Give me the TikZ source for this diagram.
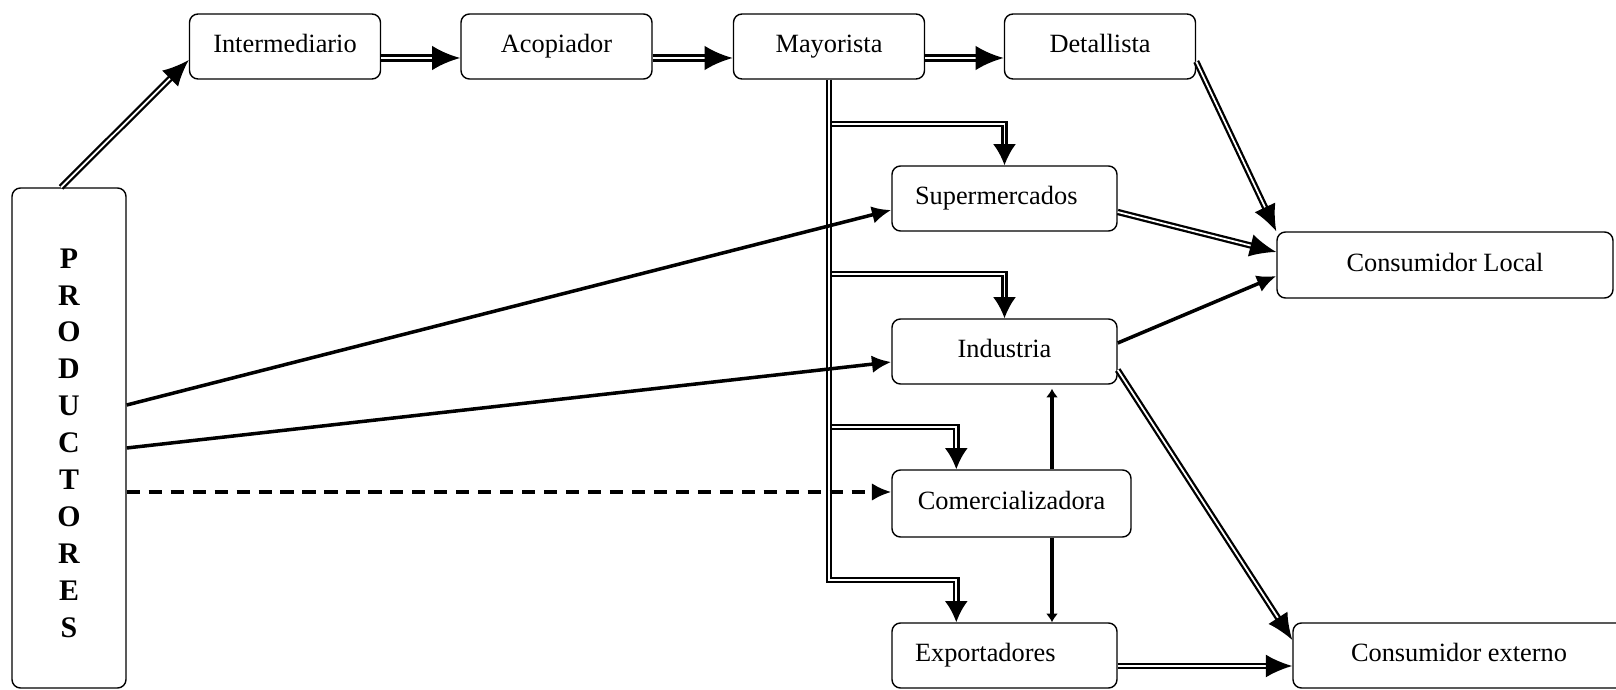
\documentclass[tikz,border=0pt]{standalone}
\usepackage{fontspec}
\setmainfont{Liberation Serif}
\usepackage{tikz}
\usetikzlibrary{arrows.meta}

\tikzset{
	frame/.style={draw, line width=0.8pt, rounded corners=0.17cm, inner sep=0pt},
	box/.style={frame, minimum height=1.3cm, text height=10.5pt, text depth=3.5pt, font=\fontsize{15}{18}\selectfont},
	topbox/.style={box, minimum width=3.82cm},
	midbox/.style={box, minimum width=4.5cm},
	leftbox/.style={midbox, text width=3.58cm, align=left},
	dblarrow/.style={draw, line width=1.3pt, double, double distance=1pt, -{Latex[length=15pt,width=13pt]}},
	fatarrow/.style={draw, line width=2pt, double, double distance=0.8pt, -{Latex[length=16pt,width=14pt]}},
	brarrow/.style={draw, line width=1.4pt, double, double distance=1.1pt, -{Latex[length=12pt,width=13pt]}},
	onearrow/.style={draw, line width=2pt, -{Latex[length=11pt,width=10pt]}},
	dasharrow/.style={onearrow, dash pattern=on 7.5pt off 5pt},
	thinarrow/.style={draw, line width=2.2pt, -{Latex[length=5pt,width=7pt]}}
}

\begin{document}
\begin{tikzpicture}
	\useasboundingbox (0, 0) rectangle (32.32, 13.8);
	% Boxes:
	\node[frame, minimum width=2.28cm, minimum height=10cm] (Productores) at (1.38, 5.04) {};
	\node[align=center, font=\fontsize{17}{21}\selectfont\bfseries] (ProdText) at ([yshift=-0.1cm]Productores.center) {P\\R\\O\\D\\U\\C\\T\\O\\R\\E\\S};
	\node[topbox] (Intermediario) at (5.70, 12.87) {Intermediario};
	\node[topbox] (Acopiador) at (11.13, 12.87) {Acopiador};
	\node[topbox] (Mayorista) at (16.58, 12.87) {Mayorista};
	\node[topbox] (Detallista) at (22.00, 12.87) {Detallista};
	\node[leftbox] (Supermercados) at (20.09, 9.83) {Supermercados};
	\node[midbox] (Industria) at (20.09, 6.77) {Industria};
	\node[box, minimum width=4.78cm, minimum height=1.34cm] (Comercializadora) at (20.23, 3.73) {Comercializadora};
	\node[leftbox] (Exportadores) at (20.09, 0.69) {Exportadores};
	\node[box, minimum width=6.72cm, minimum height=1.32cm] (ConsLocal) at (28.90, 8.5) {Consumidor Local};
	\node[box, minimum width=6.64cm] (ConsExterno) at (29.18, 0.69) {Consumidor externo};

	% Mayorista branches:
	\coordinate (lvlS) at (0, 11.32);
	\coordinate (lvlI) at (0, 8.32);
	\coordinate (lvlC) at (0, 5.26);
	\coordinate (lvlE) at (0, 2.2);
	\coordinate (dropC) at ([xshift=1.3cm]Comercializadora.north west);
	\coordinate (dropE) at ([xshift=1.3cm]Exportadores.north west);
	\draw[brarrow] (lvlS -| Mayorista.south) -| (Supermercados.north);
	\draw[brarrow] (lvlI -| Mayorista.south) -| (Industria.north);
	\draw[brarrow] (lvlC -| Mayorista.south) -| (dropC);
	\draw[brarrow] (Mayorista.south) |- (lvlE -| dropE) -- (dropE);

	% Chain and consumers:
	\draw[dblarrow] ([xshift=-0.16cm]Productores.north) -- ([yshift=-0.27cm]Intermediario.west);
	\draw[fatarrow] ([yshift=-0.23cm]Intermediario.east) -- ([yshift=-0.23cm]Acopiador.west);
	\draw[fatarrow] ([yshift=-0.23cm]Acopiador.east) -- ([yshift=-0.23cm]Mayorista.west);
	\draw[fatarrow] ([yshift=-0.23cm]Mayorista.east) -- ([yshift=-0.23cm]Detallista.west);
	\draw[dblarrow] ([yshift=-0.3cm]Detallista.east) -- (ConsLocal.north west);
	\draw[dblarrow] ([yshift=-0.27cm]Supermercados.east) -- ([yshift=0.26cm]ConsLocal.west);
	\draw[onearrow] ([yshift=0.17cm]Industria.east) -- ([yshift=-0.22cm]ConsLocal.west);
	\draw[dblarrow] ([yshift=-0.37cm]Industria.east) -- ([yshift=0.31cm]ConsExterno.west);
	\draw[dblarrow] ([yshift=-0.21cm]Exportadores.east) -- ([yshift=-0.21cm]ConsExterno.west);

	% Direct sales:
	\draw[onearrow] ([yshift=0.66cm]Productores.east) -- ([yshift=-0.23cm]Supermercados.west);
	\draw[onearrow] ([yshift=-0.2cm]Productores.east) -- ([yshift=-0.21cm]Industria.west);
	\coordinate (dashEnd) at ([yshift=0.23cm]Comercializadora.west);
	\draw[dasharrow] (Productores.east |- dashEnd) -- (dashEnd);
	\coordinate (vUp) at ([xshift=0.81cm]Comercializadora.north);
	\coordinate (vDown) at ([xshift=0.81cm]Comercializadora.south);
	\draw[thinarrow, shorten >=0.08cm] (vUp) -- (vUp |- Industria.south);
	\draw[thinarrow] (vDown) -- (vDown |- Exportadores.north);
\end{tikzpicture}
\end{document}
